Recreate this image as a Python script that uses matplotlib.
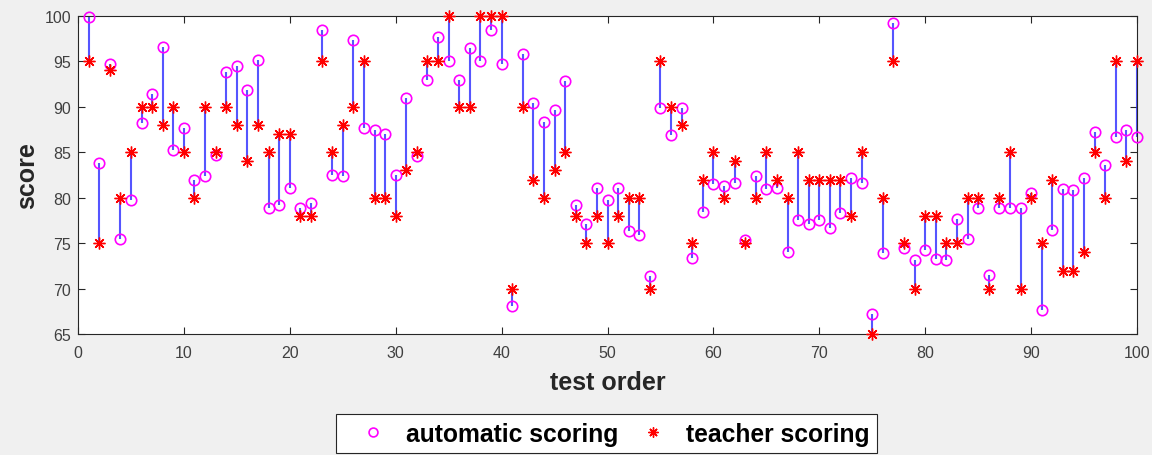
import numpy as np
import matplotlib
matplotlib.use('Agg')
import matplotlib.pyplot as plt

# scores, test order 1..100
auto_score = [99.9, 83.8, 94.7, 75.5, 79.8, 88.2, 91.4, 96.6, 85.3, 87.7,
              81.9, 82.4, 84.7, 93.8, 94.5, 91.8, 95.2, 78.9, 79.2, 81.1,
              78.9, 79.4, 98.4, 82.5, 82.4, 97.3, 87.7, 87.5, 87.0, 82.5,
              91.0, 84.6, 93.0, 97.7, 95.0, 92.9, 96.5, 95.0, 98.5, 94.7,
              68.1, 95.8, 90.4, 88.3, 89.7, 92.8, 79.2, 77.1, 81.1, 79.7,
              81.1, 76.3, 75.9, 71.4, 89.9, 86.9, 89.9, 73.4, 78.4, 81.5,
              81.3, 81.6, 75.4, 82.4, 81.0, 81.1, 74.0, 77.5, 77.1, 77.5,
              76.7, 78.3, 82.2, 81.6, 67.2, 73.9, 99.2, 74.5, 73.1, 74.2,
              73.3, 73.1, 77.7, 75.5, 78.9, 71.5, 78.9, 78.9, 78.9, 80.5,
              67.7, 76.4, 81.0, 80.9, 82.2, 87.2, 83.6, 86.7, 87.5, 86.7]
teacher_score = [95, 75, 94, 80, 85, 90, 90, 88, 90, 85,
                 80, 90, 85, 90, 88, 84, 88, 85, 87, 87,
                 78, 78, 95, 85, 88, 90, 95, 80, 80, 78,
                 83, 85, 95, 95, 100, 90, 90, 100, 100, 100,
                 70, 90, 82, 80, 83, 85, 78, 75, 78, 75,
                 78, 80, 80, 70, 95, 90, 88, 75, 82, 85,
                 80, 84, 75, 80, 85, 82, 80, 85, 82, 82,
                 82, 82, 78, 85, 65, 80, 95, 75, 70, 78,
                 78, 75, 75, 80, 80, 70, 80, 85, 70, 80,
                 75, 82, 72, 72, 74, 85, 80, 95, 84, 95]
order = np.arange(1, len(auto_score) + 1)

plt.rcParams['font.family'] = ['Liberation Sans', 'DejaVu Sans']

fig = plt.figure(figsize=(11.52, 4.56), dpi=100, facecolor='#f0f0f0')
ax = fig.add_axes([0.0677, 0.265, 0.9193, 0.698])
ax.set_facecolor('white')

ax.vlines(order, auto_score, teacher_score, colors='#2b2bff', alpha=0.8, lw=1.5, zorder=2)
ax.plot(order, auto_score, 'o', mfc='none', mec='#ff00ff', ms=7.5, mew=1.2,
        label='automatic scoring', zorder=3, clip_on=False)
ax.plot(order, teacher_score, ls='none', marker=(8, 2, 0), mec='red', ms=8.5, mew=1.0,
        label='teacher scoring', zorder=4, clip_on=False)

ax.set_xlim(0, 100)
ax.set_ylim(65, 100)
ax.set_xticks(np.arange(0, 101, 10))
ax.set_yticks(np.arange(65, 101, 5))
ax.tick_params(direction='in', top=True, right=True, length=5, labelsize=11.5,
               color='#262626', labelcolor='#404040')
ax.tick_params(axis='x', pad=8)
ax.tick_params(axis='y', pad=5)
for sp in ax.spines.values():
    sp.set_color('#262626')
    sp.set_linewidth(0.8)

ax.set_xlabel('test order', fontsize=18, fontweight='bold', labelpad=7, color='#262626')
ax.set_ylabel('score', fontsize=18, fontweight='bold', labelpad=4, color='#262626')

leg = fig.legend(loc='center', bbox_to_anchor=(0.5265, 0.047), ncol=2,
                 fancybox=False, edgecolor='#262626', framealpha=1,
                 prop={'weight': 'bold', 'size': 17.7}, columnspacing=0.2,
                 handlelength=2.4, handletextpad=0.15, borderpad=0.3,
                 markerscale=0.85)
leg.get_frame().set_linewidth(0.8)

fig.savefig('out.png', dpi=100, facecolor=fig.get_facecolor())
